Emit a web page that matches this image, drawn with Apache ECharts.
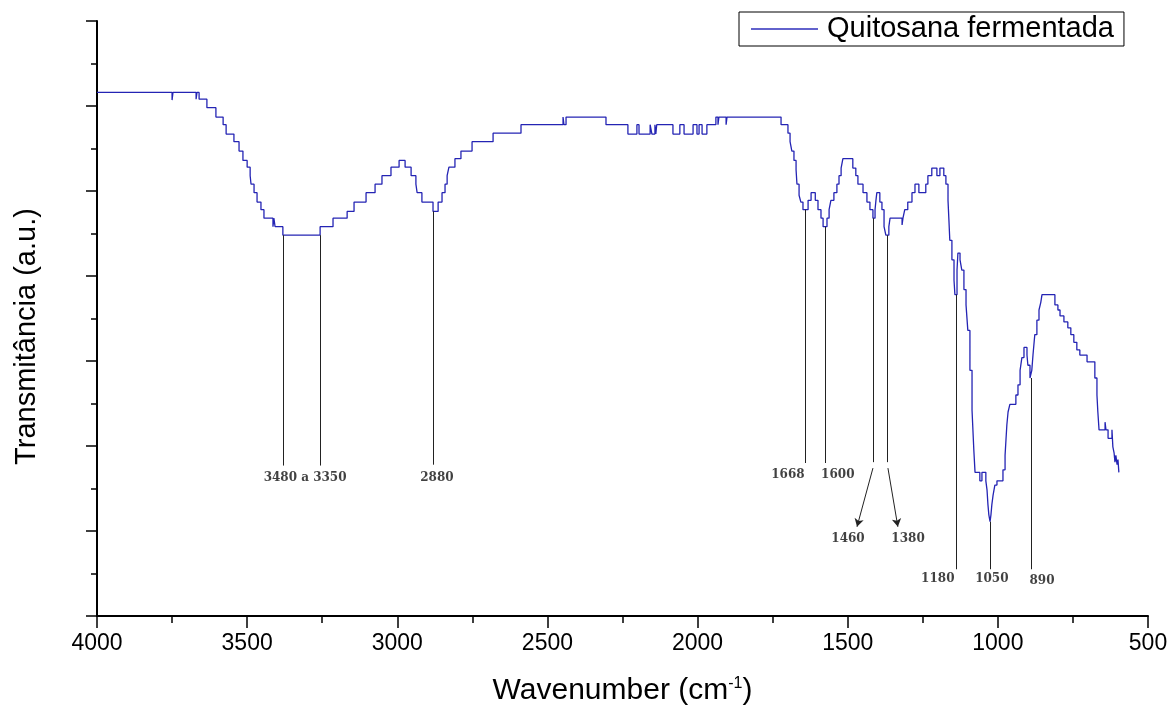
<!DOCTYPE html>
<html>
<head>
<meta charset="utf-8">
<script src="https://cdn.jsdelivr.net/npm/echarts@6/dist/echarts.min.js"></script>
<style>
html,body{margin:0;padding:0;background:#fff;}
#chart{width:1172px;height:709px;}
</style>
</head>
<body>
<div id="chart"></div>
<script>
// ---- Data (wavenumber in cm-1, transmittance in a.u.) ----
const seriesName = 'Quitosana fermentada';
const wavenumber = [4000,3750,3747,3670,3667,3660,3634,3604,3580,3570,3544,3527,3514,3500,3490,3487,3477,3467,3454,3444,3414,3411,3407,3381,3257,3214,3167,3144,3104,3074,3051,3021,2994,2974,2954,2938,2934,2918,2881,2864,2851,2841,2834,2828,2808,2788,2751,2681,2588,2448,2445,2438,2305,2232,2202,2195,2158,2152,2142,2139,2136,2082,2059,2045,2015,2002,1995,1985,1969,1939,1932,1929,1905,1902,1722,1699,1692,1686,1679,1672,1669,1662,1656,1649,1632,1622,1608,1599,1589,1582,1569,1562,1556,1546,1536,1529,1522,1516,1483,1473,1466,1449,1436,1426,1416,1409,1406,1403,1393,1386,1379,1373,1363,1359,1319,1316,1310,1300,1286,1276,1263,1240,1233,1220,1203,1193,1180,1173,1166,1163,1160,1153,1146,1143,1136,1133,1126,1120,1113,1106,1100,1093,1086,1080,1076,1060,1053,1040,1036,1033,1030,1026,1023,1020,1016,1010,1003,983,976,973,970,966,960,940,933,926,920,913,903,900,893,887,883,877,870,863,857,853,810,800,793,780,767,757,747,737,727,703,677,670,667,663,643,640,633,620,617,613,610,607,603,600,597];
const transmittance = [61.6,60.7,61.6,60.8,61.6,60.8,59.8,58.7,57.8,56.7,55.8,54.7,53.6,52.8,51.8,50.8,49.8,48.7,47.8,46.8,45.8,46.8,45.8,44.8,45.8,46.8,47.6,48.7,49.8,50.8,51.8,52.8,53.6,52.8,51.8,50.8,49.8,48.7,47.6,48.7,49.8,50.8,51.8,52.8,53.8,54.7,55.8,56.8,57.8,58.7,57.8,58.7,57.8,56.7,57.8,56.7,57.8,56.7,57.8,56.7,57.8,56.7,57.8,56.7,57.8,56.7,57.8,56.7,57.8,58.7,57.8,58.7,57.8,58.7,57.8,56.8,55.8,54.7,53.6,52.5,50.8,49.5,48.7,47.8,48.9,49.8,48.9,47.8,46.8,45.8,46.8,47.8,48.9,49.8,50.8,51.8,52.7,53.8,52.7,51.8,50.8,49.8,48.7,47.8,46.8,47.8,48.9,49.8,48.7,47.8,45.8,44.8,45.8,46.8,46.0,46.8,47.8,48.7,49.8,50.8,49.8,50.8,51.8,52.7,51.8,52.7,51.8,50.8,48.9,46.6,44.2,41.9,39.5,37.8,40.7,42.7,41.9,40.7,38.4,36.6,33.6,28.9,24.2,19.5,16.9,15.9,16.9,15.9,14.8,13.1,11.9,11.1,11.9,13.1,14.2,15.4,15.9,17.2,18.9,20.7,22.5,24.0,24.9,26.0,27.2,28.9,30.4,31.6,30.7,29.5,28.0,28.9,30.7,33.1,34.8,36.0,36.9,37.8,36.6,36.0,35.3,34.6,33.9,33.1,32.2,31.3,30.7,29.9,28.0,26.0,24.0,21.9,22.8,21.9,20.9,21.9,19.9,19.2,18.1,18.9,17.8,18.4,16.9];

// Annotation guide lines (vertical drop lines)
const guideWn     = [3381, 3257, 2881, 1641, 1576, 1416, 1369, 1140, 1026, 890];
const guideTop    = [44.8, 44.8, 47.6, 47.8, 45.8, 46.8, 44.8, 37.8, 11.1, 28.0];
const guideBottom = [17.7, 17.7, 17.8, 18.0, 18.0, 18.1, 18.1, 5.5, 5.5, 5.5];

// Arrows (from -> to)
const arrowFromWn  = [1416, 1366];
const arrowFromVal = [17.4, 17.4];
const arrowToWn    = [1469, 1333];
const arrowToVal   = [10.5, 10.5];

// Annotation labels
const labelText = ['3480 a 3350', '2880', '1668', '1600', '1460', '1380', '1180', '1050', '890'];
const labelWn   = [3307, 2868, 1699, 1533, 1499, 1299, 1200, 1020, 853];
const labelVal  = [16.2, 16.2, 16.6, 16.6, 9.1, 9.1, 4.4, 4.4, 4.1];

// Axis ranges
const xMin = 500, xMax = 4000, xStep = 500;
const yMin = 0, yMax = 70, yStep = 10;

// ---- Build ----
const mainData = wavenumber.map((w, i) => [w, transmittance[i]]);
const markLines = guideWn.map((w, i) => [
  { coord: [w, guideTop[i]], symbol: 'none' },
  { coord: [w, guideBottom[i]], symbol: 'none' }
]);
arrowFromWn.forEach((w, i) => {
  markLines.push([
    { coord: [w, arrowFromVal[i]], symbol: 'none' },
    { coord: [arrowToWn[i], arrowToVal[i]], symbol: 'arrow', symbolSize: [7, 8] }
  ]);
});
const labelData = labelText.map((t, i) => ({ name: t, value: [labelWn[i], labelVal[i]] }));

const chart = echarts.init(document.getElementById('chart'), null, { renderer: 'canvas' });
chart.setOption({
  animation: false,
  backgroundColor: '#fff',
  grid: { left: 97, right: 24, top: 21, bottom: 93, outerBoundsMode: 'none', containLabel: false },
  legend: {
    left: 739, top: 12,
    padding: [2, 10, 2, 12],
    borderColor: '#000', borderWidth: 1,
    itemWidth: 67, itemHeight: 2, icon: 'rect',
    textStyle: { fontSize: 29, fontFamily: 'Liberation Sans, Arial, sans-serif', color: '#000', padding: [0, 0, 0, 4], lineHeight: 30 },
    data: [{ name: seriesName, itemStyle: { color: '#6262cc' } }]
  },
  xAxis: {
    type: 'value', inverse: true, min: xMin, max: xMax, interval: xStep,
    axisLine: { show: true, onZero: false, lineStyle: { color: '#000', width: 2 } },
    axisTick: { show: true, length: 12, lineStyle: { color: '#000', width: 1.5 } },
    minorTick: { show: true, splitNumber: 2, length: 7, lineStyle: { color: '#000', width: 1.5 } },
    splitLine: { show: false },
    axisLabel: { fontSize: 23, color: '#000', margin: 16, fontFamily: 'Liberation Sans, Arial, sans-serif', formatter: v => String(v) },
    name: '{a|Wavenumber (cm}{s|-1}{a|)}',
    nameLocation: 'middle', nameGap: 60,
    nameTextStyle: {
      rich: {
        a: { fontSize: 30, color: '#000', fontFamily: 'Liberation Sans, Arial, sans-serif' },
        s: { fontSize: 16, color: '#000', fontFamily: 'Liberation Sans, Arial, sans-serif', verticalAlign: 'top', padding: [0, 0, 14, 0] }
      }
    }
  },
  yAxis: {
    type: 'value', min: yMin, max: yMax, interval: yStep,
    axisLine: { show: true, onZero: false, lineStyle: { color: '#000', width: 2 } },
    axisTick: { show: true, length: 11, lineStyle: { color: '#000', width: 1.5 } },
    minorTick: { show: true, splitNumber: 2, length: 6, lineStyle: { color: '#000', width: 1.5 } },
    splitLine: { show: false },
    axisLabel: { show: false },
    name: 'Transmitância (a.u.)',
    nameLocation: 'middle', nameRotate: 90, nameGap: 56,
    nameTextStyle: { fontSize: 29, color: '#000', fontFamily: 'Liberation Sans, Arial, sans-serif', padding: [0, 36, 0, 0] }
  },
  series: [
    {
      name: seriesName, type: 'line', data: mainData, step: 'end',
      showSymbol: false, symbol: 'none',
      lineStyle: { color: '#2424b4', width: 1.3 },
      itemStyle: { color: '#2424b4' },
      markLine: {
        silent: true, animation: false,
        label: { show: false },
        emphasis: { disabled: true },
        lineStyle: { color: '#222', width: 1, type: 'solid' },
        data: markLines
      },
      z: 3
    },
    {
      name: 'labels', type: 'scatter', data: labelData,
      symbolSize: 1, itemStyle: { color: 'rgba(0,0,0,0)' }, silent: true,
      label: {
        show: true, position: 'inside', formatter: '{b}',
        fontFamily: 'DejaVu Serif, serif', fontWeight: 'bold', fontSize: 12, color: '#111'
      }
    }
  ]
});
</script>
</body>
</html>
